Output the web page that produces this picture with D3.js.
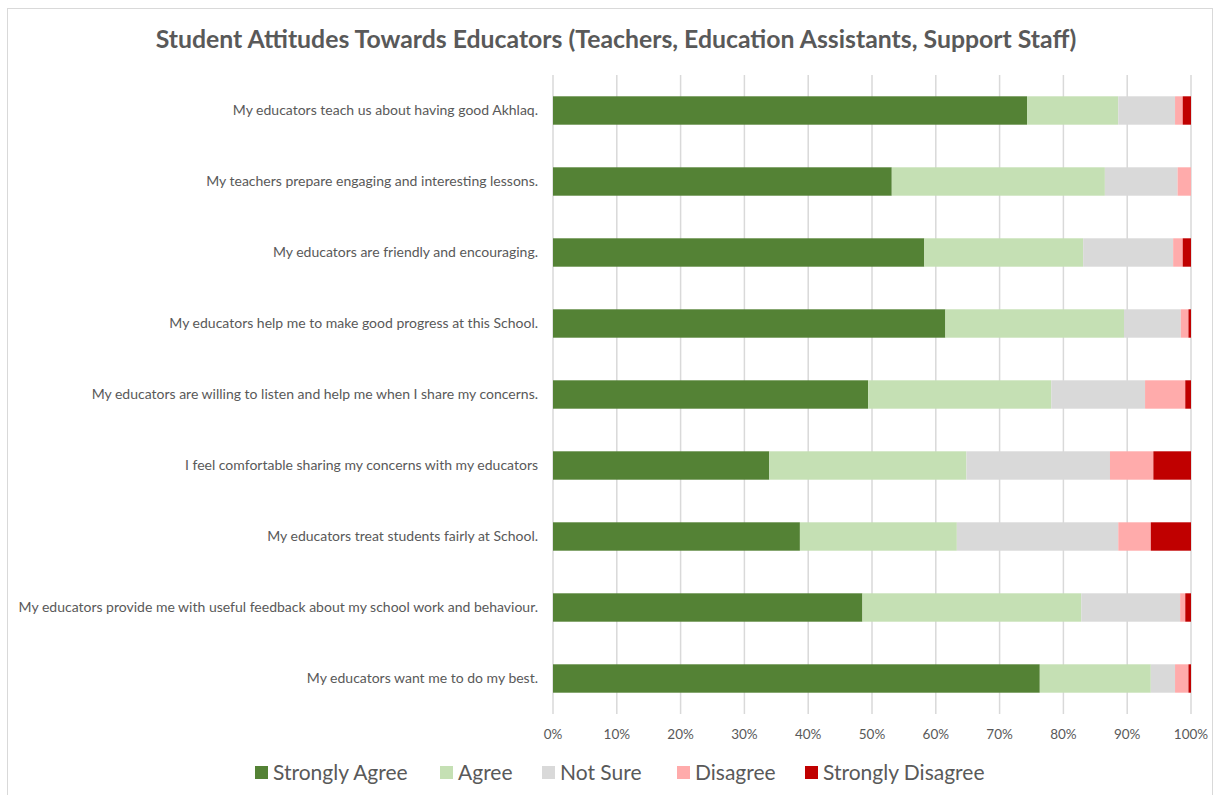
<!DOCTYPE html>
<html lang="en">
<head>
<meta charset="UTF-8">
<title>Student Attitudes Towards Educators</title>
<style>
  body { margin: 0; padding: 0; background: #fff; }
  text { font-family: Lato, "Open Sans", sans-serif; fill: #595959; }
</style>
</head>
<body>
<div id="chart"></div>
<script src="https://cdn.jsdelivr.net/npm/d3@7"></script>
<script>
// survey statements, top to bottom
const questions = [
  "My educators teach us about having good Akhlaq.",
  "My teachers prepare engaging and interesting lessons.",
  "My educators are friendly and encouraging.",
  "My educators help me to make good progress at this School.",
  "My educators are willing to listen and help me when I share my concerns.",
  "I feel comfortable sharing my concerns with my educators",
  "My educators treat students fairly at School.",
  "My educators provide me with useful feedback about my school work and behaviour.",
  "My educators want me to do my best."
];

// shares in percent, one value per question
const stronglyAgree    = [74.3, 53.1, 58.2, 61.5, 49.4, 33.9, 38.7, 48.5, 76.3];
const agree            = [14.3, 33.4, 24.9, 28.0, 28.7, 30.9, 24.6, 34.3, 17.4];
const notSure          = [ 8.9, 11.4, 14.1,  8.9, 14.7, 22.5, 25.3, 15.5,  3.8];
const disagree         = [ 1.2,  2.1,  1.5,  1.2,  6.3,  6.8,  5.1,  0.8,  2.1];
const stronglyDisagree = [ 1.3,  0.0,  1.3,  0.4,  0.9,  5.9,  6.3,  0.9,  0.4];

const seriesNames = ["Strongly Agree", "Agree", "Not Sure", "Disagree", "Strongly Disagree"];
const seriesColors = ["#548235", "#c5e0b4", "#d9d9d9", "#ffabab", "#c00000"];
const tickValues = [0, 10, 20, 30, 40, 50, 60, 70, 80, 90, 100];

const W = 1222, H = 795;
const plot = { left: 553, right: 1191, top: 75, bottom: 714 };

const rows = questions.map((q, i) => ({
  question: q,
  "Strongly Agree": stronglyAgree[i],
  "Agree": agree[i],
  "Not Sure": notSure[i],
  "Disagree": disagree[i],
  "Strongly Disagree": stronglyDisagree[i]
}));

const svg = d3.select("#chart").append("svg")
  .attr("width", W)
  .attr("height", H);

// chart frame
svg.append("rect")
  .attr("x", 7.5).attr("y", 8.5)
  .attr("width", 1205).attr("height", 800)
  .attr("fill", "#fff")
  .attr("stroke", "#d9d9d9");

svg.append("text")
  .attr("x", 616).attr("y", 48)
  .attr("text-anchor", "middle")
  .attr("font-size", 24.8)
  .attr("font-weight", "bold")
  .text("Student Attitudes Towards Educators (Teachers, Education Assistants, Support Staff)");

const x = d3.scaleLinear().domain([0, 100]).range([plot.left, plot.right]);
const y = d3.scaleBand().domain(questions).range([plot.top, plot.bottom])
  .paddingInner(0.6).paddingOuter(0.3);

// vertical gridlines
svg.append("g").selectAll("line")
  .data(tickValues)
  .join("line")
  .attr("x1", d => x(d)).attr("x2", d => x(d))
  .attr("y1", plot.top).attr("y2", plot.bottom)
  .attr("stroke", "#d9d9d9")
  .attr("stroke-width", 1.5);

// x tick labels
svg.append("g").selectAll("text")
  .data(tickValues)
  .join("text")
  .attr("x", d => x(d))
  .attr("y", 739)
  .attr("text-anchor", "middle")
  .attr("font-size", 13.5)
  .text(d => d + "%");

// category labels
svg.append("g").selectAll("text")
  .data(questions)
  .join("text")
  .attr("x", 538)
  .attr("y", d => y(d) + y.bandwidth() / 2)
  .attr("dy", "0.35em")
  .attr("text-anchor", "end")
  .attr("font-size", 14)
  .text(d => d);

const stacked = d3.stack().keys(seriesNames)(rows);
const color = d3.scaleOrdinal().domain(seriesNames).range(seriesColors);

svg.append("g").selectAll("g")
  .data(stacked)
  .join("g")
  .attr("fill", d => color(d.key))
  .selectAll("rect")
  .data(d => d)
  .join("rect")
  .attr("x", d => x(d[0]))
  .attr("y", d => y(d.data.question))
  .attr("width", d => Math.max(0, x(d[1]) - x(d[0])))
  .attr("height", y.bandwidth());

// legend
const legendX = [255, 440, 542, 677, 805];
const legend = svg.append("g").selectAll("g")
  .data(seriesNames)
  .join("g")
  .attr("transform", (d, i) => `translate(${legendX[i]}, 766)`);

legend.append("rect")
  .attr("width", 13).attr("height", 13)
  .attr("fill", d => color(d));

legend.append("text")
  .attr("x", 18).attr("y", 14)
  .attr("font-size", 21)
  .text(d => d);
</script>
</body>
</html>
